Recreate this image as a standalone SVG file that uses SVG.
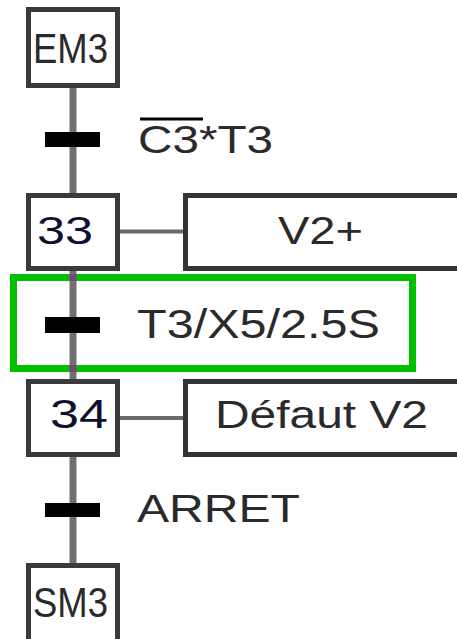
<svg xmlns="http://www.w3.org/2000/svg" width="457" height="639" viewBox="0 0 457 639">
<style>
.step{fill:#fff;stroke:#3a3a3a;stroke-width:5}
.act{fill:#fff;stroke:#333;stroke-width:5}
.lnk{stroke:#707070;stroke-width:7;fill:none}
.alnk{stroke:#6a6a6a;stroke-width:4;fill:none}
.bar{fill:#000}
.t{font-family:"Liberation Sans",Arial,sans-serif;fill:#2a2a2a;lengthAdjust:spacingAndGlyphs}
.n{font-family:"Liberation Sans",Arial,sans-serif;fill:#101030}
.hl{fill:none;stroke:#00c000;stroke-width:7}
</style>
<rect width="457" height="639" fill="#fff"/>
<g id="connectors">
<line class="lnk" x1="73" y1="86" x2="73" y2="195"/>
<line class="lnk" x1="73" y1="269" x2="73" y2="382"/>
<line class="lnk" x1="73" y1="455" x2="73" y2="565"/>
<line class="alnk" x1="120" y1="231.5" x2="185" y2="231.5"/>
<line class="alnk" x1="120" y1="418" x2="185" y2="418"/>
</g>
<g id="highlight">
<rect class="hl" x="13.5" y="277.5" width="399" height="91"/>
<rect x="69.5" y="274" width="7" height="7" fill="#804080"/>
<rect x="69.5" y="365" width="7" height="7" fill="#804080"/>
</g>
<g id="EM3">
<rect class="step" x="28.5" y="9.5" width="89" height="76"/>
<text class="t" x="33" y="63" font-size="43" textLength="75" lengthAdjust="spacingAndGlyphs">EM3</text>
</g>
<g id="T1">
<rect class="bar" x="45" y="132" width="55" height="15"/>
<text class="t" x="138" y="153" font-size="39" textLength="135" lengthAdjust="spacingAndGlyphs">C3*T3</text>
<line x1="140" y1="119" x2="203" y2="119" stroke="#000" stroke-width="3"/>
</g>
<g id="S33">
<rect class="step" x="28.5" y="195.5" width="89" height="73"/>
<text class="n" x="37" y="244" font-size="39" textLength="56" lengthAdjust="spacingAndGlyphs">33</text>
</g>
<g id="A33">
<rect class="act" x="185.5" y="195.5" width="290" height="73"/>
<text class="t" x="278" y="244" font-size="39" textLength="85" lengthAdjust="spacingAndGlyphs">V2+</text>
</g>
<g id="T2">
<rect class="bar" x="45" y="317" width="55" height="16"/>
<text class="t" x="137" y="338" font-size="41" textLength="243" lengthAdjust="spacingAndGlyphs">T3/X5/2.5S</text>
</g>
<g id="S34">
<rect class="step" x="28.5" y="381.5" width="89" height="73"/>
<text class="n" x="50" y="428" font-size="41" textLength="58" lengthAdjust="spacingAndGlyphs">34</text>
</g>
<g id="A34">
<rect class="act" x="185.5" y="381.5" width="290" height="73"/>
<text class="t" x="215" y="428" font-size="38" textLength="213" lengthAdjust="spacingAndGlyphs">Défaut V2</text>
</g>
<g id="T3">
<rect class="bar" x="45" y="503" width="55" height="14"/>
<text class="t" x="137" y="522" font-size="39" textLength="163" lengthAdjust="spacingAndGlyphs">ARRET</text>
</g>
<g id="SM3">
<rect class="step" x="28.5" y="565.5" width="89" height="76"/>
<text class="t" x="33" y="617" font-size="42" textLength="75" lengthAdjust="spacingAndGlyphs">SM3</text>
</g>
</svg>
